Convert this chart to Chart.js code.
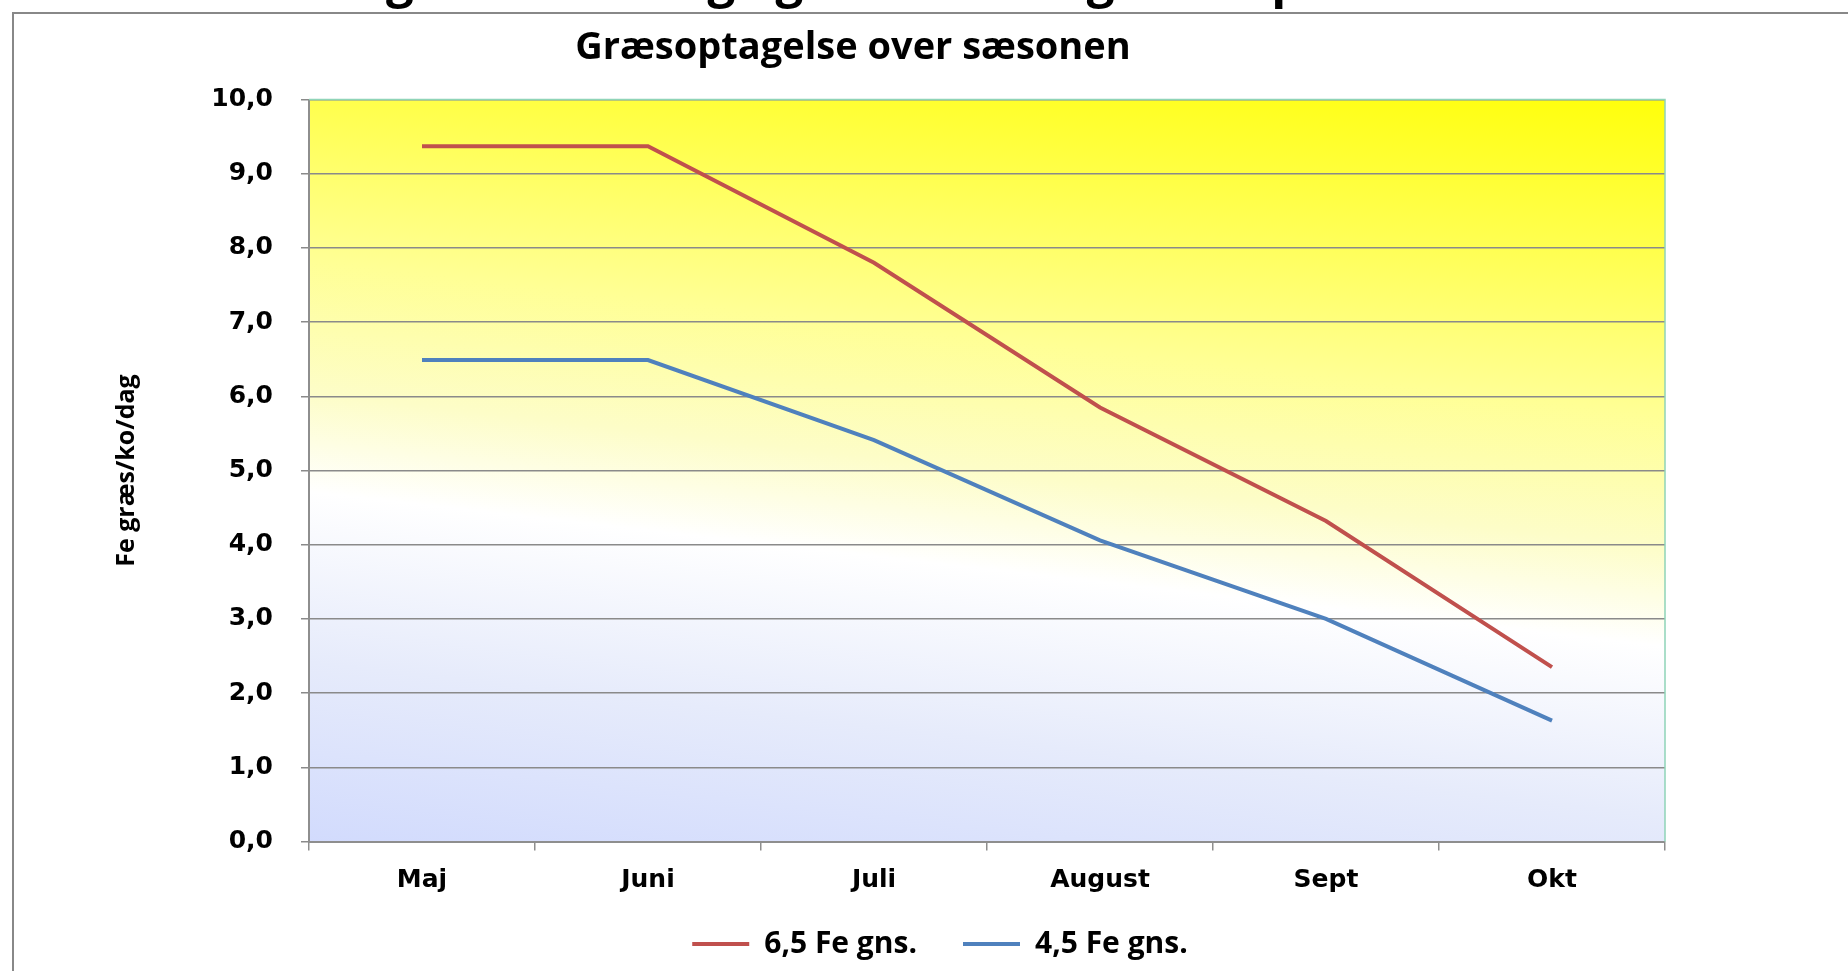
<!DOCTYPE html>
<html lang="da">
<head>
<meta charset="utf-8">
<title>Græsoptagelse over sæsonen</title>
<script src="https://cdn.jsdelivr.net/npm/chart.js@4.4.0/dist/chart.umd.min.js"></script>
<style>
  html, body { margin: 0; padding: 0; background: #fff; overflow: hidden; }
  .slide { position: relative; width: 1848px; height: 971px; overflow: hidden; }
  .slide-title {
    position: absolute; left: 273px; top: -46px; white-space: nowrap;
    font: bold 49px 'Open Sans', sans-serif; line-height: 49px; color: #000;
  }
  .frame {
    position: absolute; left: 12px; top: 12px; width: 1900px; height: 1000px;
    border-left: 2px solid #888; border-top: 2px solid #888;
  }
  .chart-box { position: absolute; left: 0; top: 0; width: 1848px; height: 971px; }
</style>
</head>
<body>
<div class="slide">
  <div class="slide-title">Beregnet udvikling i græsvækst og foder pr. ko</div>
  <div class="frame"></div>
  <div class="chart-box"><canvas id="chart"></canvas></div>
</div>
<script>
const months = ['Maj', 'Juni', 'Juli', 'August', 'Sept', 'Okt'];
const highFe = [9.37, 9.37, 7.8, 5.85, 4.32, 2.35];
const lowFe = [6.49, 6.49, 5.41, 4.06, 3.0, 1.63];
const seriesNames = ['6,5 Fe gns.', '4,5 Fe gns.'];

const ctx = document.getElementById('chart').getContext('2d');

// gradient behind the plot: lavender bottom-left -> white -> yellow top-right
const plotBackground = {
  id: 'plotBackground',
  beforeDraw(chart) {
    const { ctx: c, chartArea } = chart;
    const { left, top, right, bottom } = chartArea;
    const dx = 0.1133;
    const dy = -0.9936;
    const len = (right - left) * dx + (bottom - top) * -dy;
    const grad = c.createLinearGradient(left, bottom, left + dx * len, bottom + dy * len);
    grad.addColorStop(0, '#d2dbfd');
    grad.addColorStop(0.2, '#e6ebfb');
    grad.addColorStop(0.39, '#ffffff');
    grad.addColorStop(0.5, '#fdfdc8');
    grad.addColorStop(0.65, '#ffff94');
    grad.addColorStop(0.82, '#ffff50');
    grad.addColorStop(1, '#ffff0a');
    c.save();
    c.fillStyle = grad;
    c.fillRect(left, top, right - left, bottom - top);
    c.restore();
  },
  afterDraw(chart) {
    const { ctx: c, chartArea } = chart;
    const { left, top, right, bottom } = chartArea;
    c.save();
    c.strokeStyle = '#8fd4b8';
    c.lineWidth = 1.5;
    c.beginPath();
    c.moveTo(left, top);
    c.lineTo(right, top);
    c.lineTo(right, bottom);
    c.stroke();
    c.restore();
  },
};

// legend: smaller box so the month labels get room, drawn a bit up and to the right
const legendPosition = {
  id: 'legendPosition',
  beforeInit(chart) {
    const originalFit = chart.legend.fit;
    chart.legend.fit = function fit() {
      originalFit.bind(chart.legend)();
      this.height -= 20;
    };
  },
  beforeDraw(chart) {
    chart.legend.left += 87;
    chart.legend.right += 87;
    chart.legend.top -= 17;
  },
  afterDraw(chart) {
    chart.legend.left -= 87;
    chart.legend.right -= 87;
    chart.legend.top += 17;
  },
};

const tickFont = { family: "'DejaVu Sans', Verdana, sans-serif", size: 25, weight: 'bold' };

new Chart(ctx, {
  type: 'line',
  data: {
    labels: months,
    datasets: [
      {
        label: seriesNames[0],
        data: highFe,
        borderColor: '#c0504d',
        backgroundColor: '#c0504d',
        borderWidth: 4,
        pointRadius: 0,
        tension: 0,
      },
      {
        label: seriesNames[1],
        data: lowFe,
        borderColor: '#4f81bd',
        backgroundColor: '#4f81bd',
        borderWidth: 4,
        pointRadius: 0,
        tension: 0,
      },
    ],
  },
  options: {
    responsive: true,
    maintainAspectRatio: false,
    animation: false,
    layout: { padding: { left: 41, right: 183, top: 0, bottom: 5 } },
    plugins: {
      title: {
        display: true,
        text: 'Græsoptagelse over sæsonen',
        color: '#000',
        font: { family: "'Open Sans', sans-serif", size: 38, weight: 'bold' },
        padding: { top: 25, bottom: 29 },
      },
      legend: {
        position: 'bottom',
        labels: {
          color: '#000',
          font: { family: "'Open Sans', sans-serif", size: 30, weight: 'bold' },
          usePointStyle: true,
          pointStyle: 'line',
          pointStyleWidth: 57,
          padding: 46,
        },
      },
      tooltip: { enabled: false },
    },
    scales: {
      x: {
        offset: true,
        grid: {
          offset: true,
          drawOnChartArea: false,
          drawTicks: true,
          tickLength: 9,
          color: '#8e8e8e',
          lineWidth: 1.5,
        },
        border: { color: '#8e8e8e', width: 2 },
        ticks: { color: '#000', font: tickFont, padding: 15 },
        afterFit(scale) { scale.height = 971 - 5 - 841.5 - chartLegendHeight(scale.chart); },
      },
      y: {
        min: 0,
        max: 10,
        ticks: {
          stepSize: 1,
          color: '#000',
          font: tickFont,
          padding: 28,
          callback: (v) => Number(v).toFixed(1).replace('.', ','),
        },
        grid: { color: '#8a8a8a', lineWidth: 1.5, tickLength: 8 },
        border: { color: '#8e8e8e', width: 2 },
        title: {
          display: true,
          text: 'Fe græs/ko/dag',
          color: '#000',
          font: { family: "'Open Sans', sans-serif", size: 25, weight: 'bold' },
          padding: { top: 71, bottom: 0 },
        },
        afterFit(scale) { scale.width = 268; },
      },
    },
  },
  plugins: [plotBackground, legendPosition],
});

function chartLegendHeight(chart) {
  return chart.legend ? chart.legend.height : 0;
}
</script>
</body>
</html>
